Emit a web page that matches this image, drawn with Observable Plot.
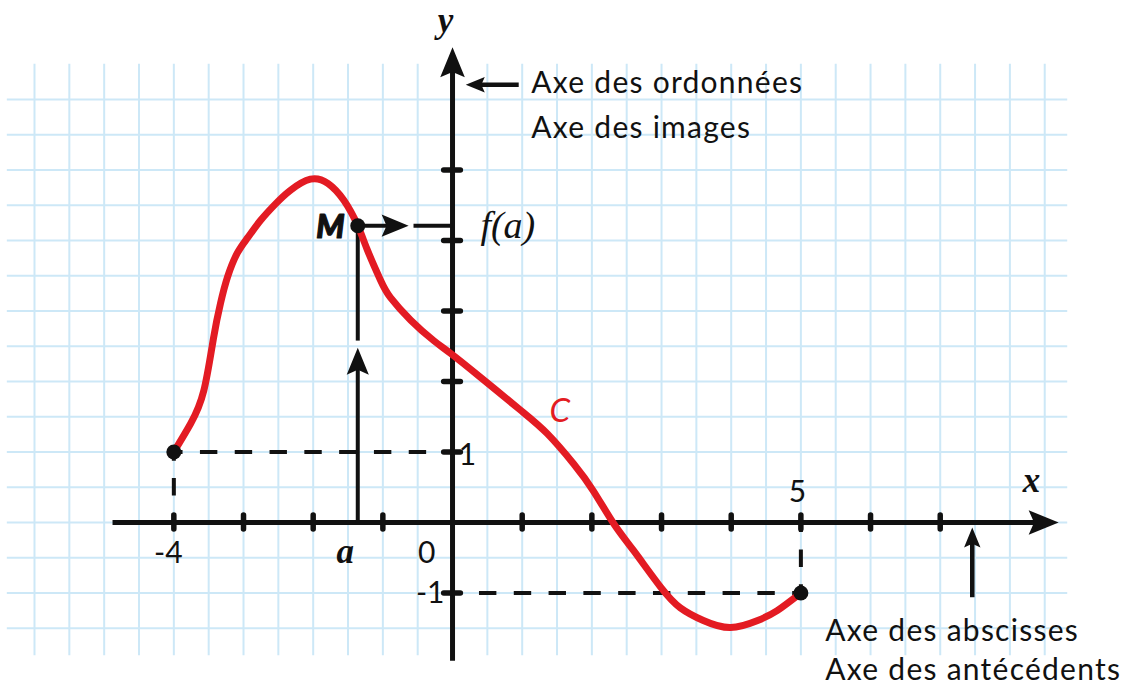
<!DOCTYPE html>
<html><head><meta charset="utf-8">
<script src="https://cdn.jsdelivr.net/npm/d3@7"></script>
<script src="https://cdn.jsdelivr.net/npm/@observablehq/plot@0.6"></script>
<style>
html,body{margin:0;padding:0;background:#fff;}
#chart svg{display:block;}
#chart g[aria-description="notes"] text{letter-spacing:1.25px;}
</style>
</head><body><div id="chart"></div>
<script>
// ---- data ----
const curveX = [-4, -3.76, -3.57, -3.43, -3.33, -3.23, -3.09, -2.94, -2.76, -2.54, -2.33, -2.04, -1.79, -1.56, -1.36, -1.22, -1.03, -0.89, -0.60, -0.27, -0.03, 0.40, 0.98, 1.36, 1.74, 2.02, 2.31, 2.60, 2.99, 3.27, 3.60, 3.99, 4.38, 4.66, 5];
const curveY = [1, 1.40, 1.87, 2.62, 3.11, 3.48, 3.82, 4.04, 4.28, 4.52, 4.71, 4.87, 4.81, 4.57, 4.21, 3.86, 3.43, 3.19, 2.87, 2.58, 2.40, 2.06, 1.59, 1.26, 0.83, 0.45, -0.01, -0.40, -0.92, -1.21, -1.39, -1.49, -1.39, -1.25, -1];
const xTicks = [-4, -3, -2, -1, 1, 2, 3, 4, 5, 6, 7];
const yTicks = [-1, 1, 2, 3, 4, 5];
const gridX = d3.range(-6, 8.51, 0.5);
const gridY = d3.range(-1.5, 6.01, 0.5);
const aVal = -1.36, faVal = 4.21;
const endPoints = [[-4, 1], [5, -1]];
const dashed = [
  {x1: -4, y1: 1, x2: 0, y2: 1},
  {x1: -4, y1: 1, x2: -4, y2: 0},
  {x1: 5, y1: -1, x2: 0, y2: -1},
  {x1: 5, y1: -1, x2: 5, y2: 0}
];
// arrows: start, shaft end, tip, head size, direction (deg)
const arrows = [
  {x1: 0, y1: -1.96, xe: 0, ye: 6.5, xt: 0, yt: 6.74, r: 15, rot: 0, w: 5},
  {x1: -4.88, y1: 0, xe: 8.45, ye: 0, xt: 8.70, yt: 0, r: 15, rot: 90, w: 5},
  {x1: 0.95, y1: 6.21, xe: 0.40, ye: 6.21, xt: 0.19, yt: 6.21, r: 9.5, rot: -90, w: 4.5},
  {x1: 7.46, y1: -1.06, xe: 7.46, ye: -0.27, xt: 7.46, yt: -0.07, r: 10, rot: 0, w: 4.5},
  {x1: aVal, y1: faVal, xe: -0.85, ye: faVal, xt: -0.63, yt: faVal, r: 13.5, rot: 90, w: 4},
  {x1: aVal, y1: 0, xe: aVal, ye: 2.27, xt: aVal, yt: 2.48, r: 13.5, rot: 0, w: 4}
];
const solidSegs = [
  {x1: -0.56, y1: faVal, x2: 0, y2: faVal},
  {x1: aVal, y1: 2.58, x2: aVal, y2: faVal}
];
const sansLabels = [
  {t: "-4", x: -4.08, y: -0.58, anchor: "middle"},
  {t: "0", x: -0.37, y: -0.58, anchor: "middle"},
  {t: "-1", x: -0.32, y: -1.135, anchor: "end"},
  {t: "1", x: 0.215, y: 0.81, anchor: "start"},
  {t: "5", x: 4.95, y: 0.284, anchor: "middle"}
];
const noteLabels = [
  {t: "Axe des ordonnées", x: 1.13, y: 6.085},
  {t: "Axe des images", x: 1.13, y: 5.46},
  {t: "Axe des abscisses", x: 5.35, y: -1.674},
  {t: "Axe des antécédents", x: 5.35, y: -2.24}
];
const serifLabels = [
  {t: "x", x: 8.31, y: 0.43},
  {t: "y", x: -0.10, y: 6.96},
  {t: "a", x: -1.54, y: -0.58}
];

// filled, notched arrowhead, tip at origin pointing up
const arrowHead = {
  draw(context, size) {
    const r = Math.sqrt(size / Math.PI);
    const L = 2 * r, W = 0.82 * L;
    context.moveTo(0, 0);
    context.lineTo(W / 2, L);
    context.lineTo(0, 0.82 * L);
    context.lineTo(-W / 2, L);
    context.closePath();
  }
};

const ink = "#111";
const red = "#e31b23";
const sans = "Lato, 'Open Sans', sans-serif";
const serif = "'Liberation Serif', 'DejaVu Serif', serif";

const chart = Plot.plot({
  width: 1124,
  height: 691,
  margin: 0,
  x: {domain: [-6.488, 9.645], axis: null},
  y: {domain: [-2.397, 7.404], axis: null},
  r: {type: "identity"},
  style: {background: "#fff"},
  marks: [
    Plot.ruleX(gridX, {x: d => d, y1: -1.89, y2: 6.5, stroke: "#cde8f7", strokeWidth: 2}),
    Plot.ruleY(gridY, {y: d => d, x1: -6.39, x2: 8.83, stroke: "#cde8f7", strokeWidth: 2}),
    Plot.link(dashed, {x1: "x1", y1: "y1", x2: "x2", y2: "y2", stroke: ink, strokeWidth: 4, strokeDasharray: "17.4 17.4", strokeDashoffset: 8.7}),
    Plot.link(arrows, {x1: "x1", y1: "y1", x2: "xe", y2: "ye", stroke: ink, strokeWidth: d => d.w}),
    Plot.link(solidSegs, {x1: "x1", y1: "y1", x2: "x2", y2: "y2", stroke: ink, strokeWidth: 4}),
    Plot.ruleX(xTicks, {x: d => d, y1: -0.1, y2: 0.1, stroke: ink, strokeWidth: 5.5, strokeLinecap: "round"}),
    Plot.ruleY(yTicks, {y: d => d, x1: -0.12, x2: 0.12, stroke: ink, strokeWidth: 5.5, strokeLinecap: "round"}),
    Plot.line({length: curveX.length}, {x: curveX, y: curveY, curve: "natural", stroke: red, strokeWidth: 7, strokeLinecap: "round", strokeLinejoin: "round"}),
    Plot.dot(arrows, {x: "xt", y: "yt", r: "r", rotate: "rot", symbol: arrowHead, fill: ink, stroke: "none"}),
    Plot.dot(endPoints, {x: d => d[0], y: d => d[1], r: 7.5, fill: ink, stroke: "none"}),
    Plot.dot([[aVal, faVal]], {x: d => d[0], y: d => d[1], r: 7.5, fill: ink, stroke: "none"}),
    Plot.text(sansLabels, {x: "x", y: "y", text: "t", textAnchor: d => d.anchor, lineAnchor: "bottom", fontFamily: sans, fontSize: 30, fill: ink}),
    Plot.text(noteLabels, {x: "x", y: "y", text: "t", textAnchor: "start", lineAnchor: "bottom", fontFamily: sans, fontSize: 30, fill: ink, ariaDescription: "notes"}),
    Plot.text(serifLabels, {x: "x", y: "y", text: "t", textAnchor: "middle", lineAnchor: "bottom", fontFamily: serif, fontStyle: "italic", fontWeight: "bold", fontSize: 35, fill: ink}),
    Plot.text(["f(a)"], {x: 0.40, y: 4.03, text: d => d, textAnchor: "start", lineAnchor: "bottom", fontFamily: serif, fontStyle: "italic", fontSize: 38, fill: ink}),
    Plot.text(["M"], {x: -1.55, y: 4.04, text: d => d, textAnchor: "end", lineAnchor: "bottom", fontFamily: "'Lato Black', Lato, sans-serif", fontStyle: "italic", fontWeight: 900, fontSize: 32, fill: ink, stroke: ink, strokeWidth: 1.2}),
    Plot.text(["C"], {x: 1.54, y: 1.42, text: d => d, textAnchor: "middle", lineAnchor: "bottom", fontFamily: sans, fontStyle: "italic", fontSize: 33, fill: red})
  ]
});
document.getElementById("chart").appendChild(chart);
</script></body></html>
